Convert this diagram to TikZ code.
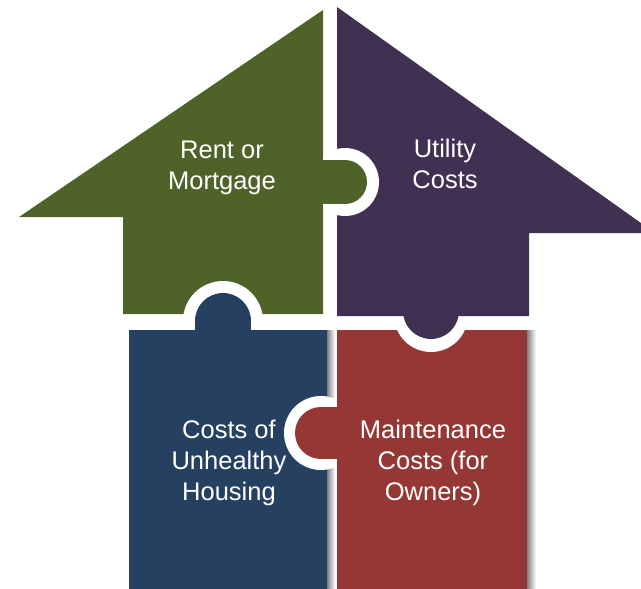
\documentclass[tikz,border=0pt]{standalone}
\usepackage{fontspec}
\setmainfont{Liberation Sans}
\usepackage{xcolor}
\usepackage{tikz}
\usetikzlibrary{positioning}

\definecolor{rentgreen}{HTML}{4F6228}
\definecolor{utilpurple}{HTML}{403152}
\definecolor{healthblue}{HTML}{254061}
\definecolor{maintred}{HTML}{953735}

\begin{document}
\begin{tikzpicture}[x=1pt,y=-1pt]
        \tikzset{piecetext/.style={text=white,align=center,inner sep=0pt,font=\fontsize{25.5}{31}\selectfont}};
        \tikzset{ringgap/.style={fill=white}};
        \tikzset{edgeshade/.style={left color=black!50,right color=white}};

        \clip (0,0) rectangle (641,589);

        % rent or mortgage piece
        \fill [rentgreen] (323,10) -- (19,217) -- (123,217) -- (123,314) -- (323,314) -- cycle;
        \fill [ringgap] (223,321) circle (40);

        % unhealthy housing piece
        \fill [edgeshade] (327,330) rectangle (335,589);
        \fill [healthblue] (129,330) rectangle (327,589);
        \fill [healthblue] (223,321) circle (28);
        \fill [healthblue] (195,321) rectangle (251,331);
        \fill [ringgap] (321,433) circle (37);

        % maintenance piece
        \fill [edgeshade] (527,330) rectangle (536,589);
        \fill [maintred] (337,330) rectangle (527,589);
        \fill [maintred] (321,433) circle (26);
        \fill [maintred] (321,407) rectangle (338,459);
        \fill [ringgap] (431,315) circle (37);

        % utility piece
        \fill [utilpurple] (337,7) -- (655,233) -- (529,233) -- (529,316) -- (337,316) -- cycle;
        \fill [utilpurple] (431,311) circle (28);
        \begin{scope}
            \clip (323,100) rectangle (400,300);
            \fill [ringgap] (345,182) circle (34);
        \end{scope}
        \fill [rentgreen] (345,182) circle (22);
        \fill [rentgreen] (322,160) rectangle (345,204);

        \node [piecetext] (rent) at (222,168) {Rent or\\Mortgage};
        \node [piecetext] (utility) at (445,164) {Utility\\Costs};
        \node [piecetext] (unhealthy) at (229,463) {Costs of\\Unhealthy\\Housing};
        \node [piecetext] (maintenance) at (433,463) {Maintenance\\Costs (for\\Owners)};
    \end{tikzpicture}
\end{document}
